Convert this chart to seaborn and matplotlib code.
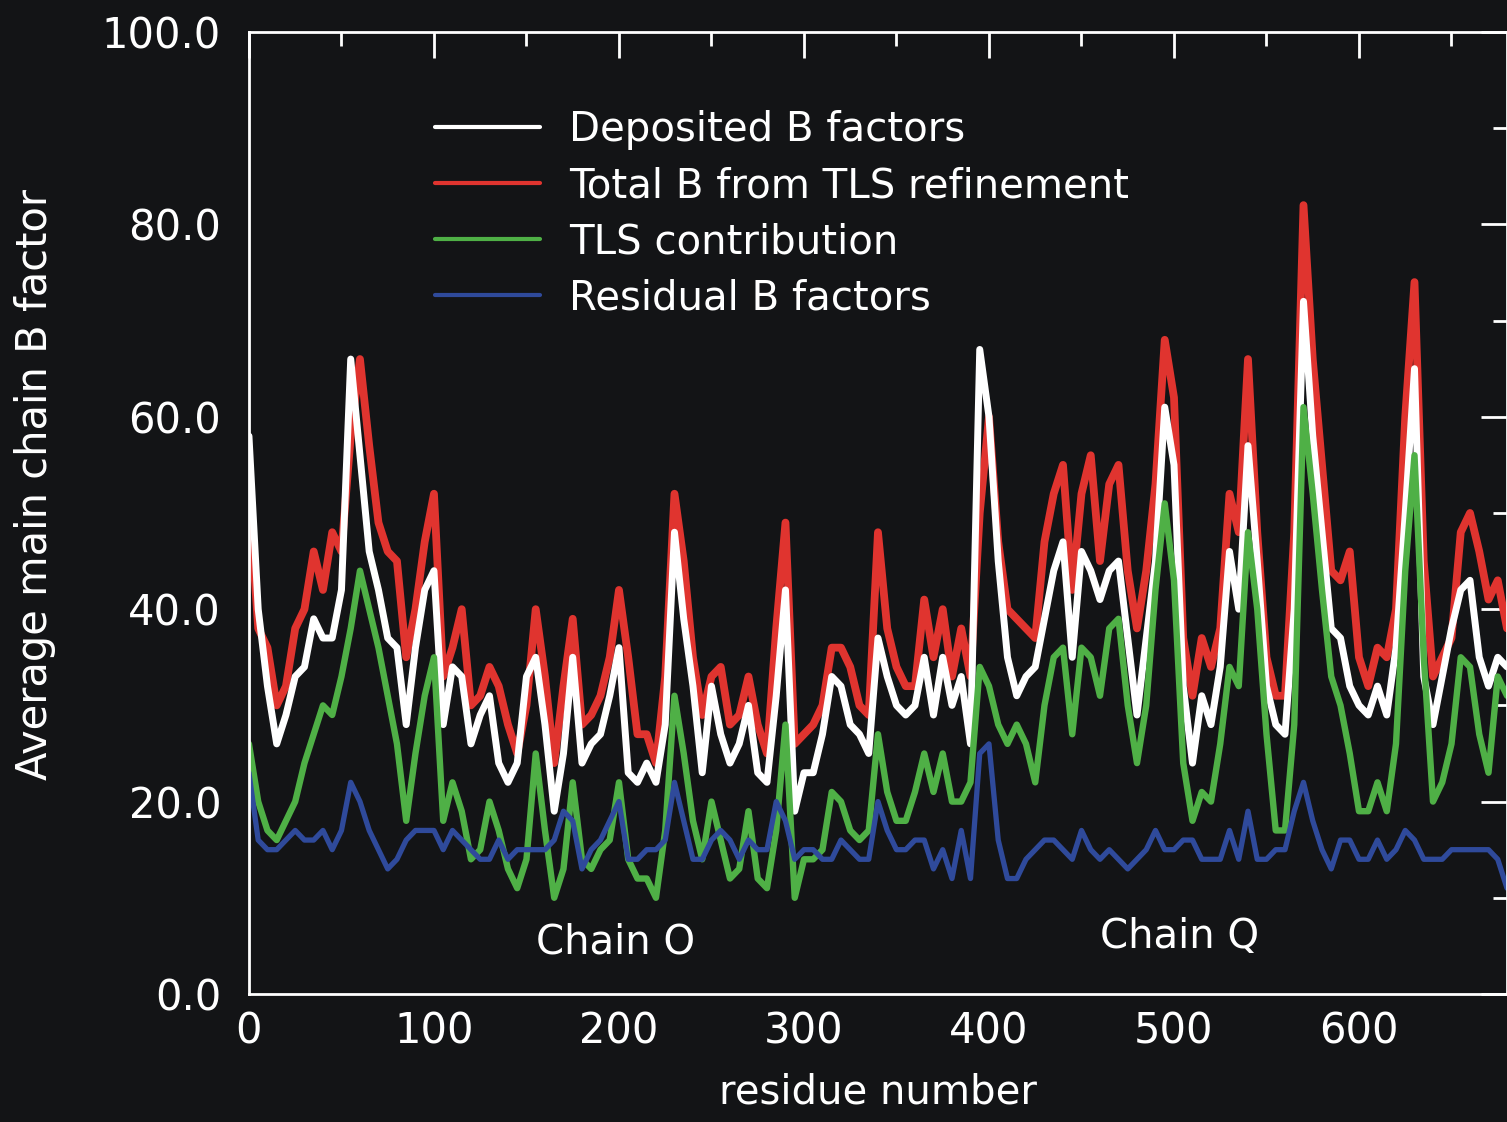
import numpy as np
import pandas as pd
import matplotlib
matplotlib.use("Agg")
import matplotlib.pyplot as plt
from matplotlib.lines import Line2D
from matplotlib.ticker import MultipleLocator, FormatStrFormatter
import seaborn as sns

# residue numbers (sampled every 5 residues)
residue = np.arange(0, 681, 5)

deposited = [58, 40, 32, 26, 29, 33, 34, 39, 37, 37,
             42, 66, 56, 46, 42, 37, 36, 28, 36, 42,
             44, 28, 34, 33, 26, 29, 31, 24, 22, 24,
             33, 35, 28, 19, 25, 35, 24, 26, 27, 31,
             36, 23, 22, 24, 22, 28, 48, 39, 32, 23,
             32, 27, 24, 26, 30, 23, 22, 31, 42, 19,
             23, 23, 27, 33, 32, 28, 27, 25, 37, 33,
             30, 29, 30, 35, 29, 35, 30, 33, 26, 67,
             60, 45, 35, 31, 33, 34, 39, 44, 47, 35,
             46, 44, 41, 44, 45, 37, 29, 37, 45, 61,
             55, 32, 24, 31, 28, 34, 46, 40, 57, 45,
             32, 28, 27, 40, 72, 58, 48, 38, 37, 32,
             30, 29, 32, 29, 36, 50, 65, 33, 28, 33,
             38, 42, 43, 35, 32, 35, 34]

total_tls = [52, 38, 36, 30, 32, 38, 40, 46, 42, 48,
             46, 58, 66, 57, 49, 46, 45, 35, 40, 47,
             52, 33, 36, 40, 30, 31, 34, 32, 28, 25,
             30, 40, 33, 24, 32, 39, 28, 29, 31, 35,
             42, 35, 27, 27, 24, 33, 52, 45, 35, 29,
             33, 34, 28, 29, 33, 28, 25, 38, 49, 26,
             27, 28, 30, 36, 36, 34, 30, 29, 48, 38,
             34, 32, 32, 41, 35, 40, 33, 38, 33, 50,
             60, 47, 40, 39, 38, 37, 47, 52, 55, 42,
             52, 56, 45, 53, 55, 44, 38, 44, 53, 68,
             62, 37, 31, 37, 34, 38, 52, 48, 66, 48,
             35, 31, 31, 48, 82, 66, 55, 44, 43, 46,
             35, 32, 36, 35, 40, 60, 74, 45, 33, 35,
             37, 48, 50, 46, 41, 43, 38]

tls_part = [26, 20, 17, 16, 18, 20, 24, 27, 30, 29,
            33, 38, 44, 40, 36, 31, 26, 18, 25, 31,
            35, 18, 22, 19, 14, 15, 20, 17, 13, 11,
            14, 25, 17, 10, 13, 22, 14, 13, 15, 16,
            22, 14, 12, 12, 10, 17, 31, 25, 18, 14,
            20, 16, 12, 13, 19, 12, 11, 17, 28, 10,
            14, 14, 15, 21, 20, 17, 16, 17, 27, 21,
            18, 18, 21, 25, 21, 25, 20, 20, 22, 34,
            32, 28, 26, 28, 26, 22, 30, 35, 36, 27,
            36, 35, 31, 38, 39, 30, 24, 30, 42, 51,
            43, 24, 18, 21, 20, 26, 34, 32, 48, 40,
            27, 17, 17, 28, 61, 52, 42, 33, 30, 25,
            19, 19, 22, 19, 26, 44, 56, 35, 20, 22,
            26, 35, 34, 27, 23, 33, 31]

residual = [23, 16, 15, 15, 16, 17, 16, 16, 17, 15,
            17, 22, 20, 17, 15, 13, 14, 16, 17, 17,
            17, 15, 17, 16, 15, 14, 14, 16, 14, 15,
            15, 15, 15, 16, 19, 18, 13, 15, 16, 18,
            20, 14, 14, 15, 15, 16, 22, 18, 14, 14,
            16, 17, 16, 14, 16, 15, 15, 20, 18, 14,
            15, 15, 14, 14, 16, 15, 14, 14, 20, 17,
            15, 15, 16, 16, 13, 15, 12, 17, 12, 25,
            26, 16, 12, 12, 14, 15, 16, 16, 15, 14,
            17, 15, 14, 15, 14, 13, 14, 15, 17, 15,
            15, 16, 16, 14, 14, 14, 17, 14, 19, 14,
            14, 15, 15, 19, 22, 18, 15, 13, 16, 16,
            14, 14, 16, 14, 15, 17, 16, 14, 14, 14,
            15, 15, 15, 15, 15, 14, 11]

names = ["Deposited B factors", "Total B from TLS refinement",
         "TLS contribution", "Residual B factors"]
colors = {"Deposited B factors": "#ffffff",
          "Total B from TLS refinement": "#e0342f",
          "TLS contribution": "#4fb046",
          "Residual B factors": "#2f4a9b"}
widths = {"Deposited B factors": 5.0,
          "Total B from TLS refinement": 5.6,
          "TLS contribution": 4.6,
          "Residual B factors": 3.8}

df = pd.DataFrame({"residue": residue,
                   names[0]: deposited, names[1]: total_tls,
                   names[2]: tls_part, names[3]: residual})

bg = "#131416"
sns.set_theme(style="dark")
plt.rcParams['font.family'] = ['DejaVu Sans']

fig = plt.figure(figsize=(15.07, 11.22), dpi=100, facecolor=bg)
ax = fig.add_axes([0.1652, 0.1141, 0.8348, 0.8574])
ax.set_facecolor(bg)

# red under white, then green, then blue
for name in [names[1], names[0], names[2], names[3]]:
    sns.lineplot(data=df, x="residue", y=name, ax=ax, color=colors[name],
                 lw=widths[name], legend=False)

ax.set_xlim(0, 680)
ax.set_ylim(0, 100)
ax.xaxis.set_major_locator(MultipleLocator(100))
ax.xaxis.set_minor_locator(MultipleLocator(50))
ax.yaxis.set_major_locator(MultipleLocator(20))
ax.yaxis.set_minor_locator(MultipleLocator(10))
ax.yaxis.set_major_formatter(FormatStrFormatter('%.1f'))
ax.tick_params(which='both', direction='in', top=True, right=True,
               colors='white', width=2, labelsize=30)
ax.tick_params(which='major', length=19)
ax.tick_params(which='minor', length=10)
ax.tick_params(axis='y', pad=20)
ax.tick_params(axis='x', pad=12)
for s in ax.spines.values():
    s.set_color('white')
    s.set_linewidth(2)
ax.grid(False)

ax.set_xlabel("residue number", color='white', fontsize=29)
ax.xaxis.set_label_coords(0.5, -0.082)
ax.set_ylabel("Average main chain B factor", color='white', fontsize=30)
ax.yaxis.set_label_coords(-0.153, 0.53)

ax.text(198, 5.4, "Chain O", color='white', fontsize=29, ha='center', va='center')
ax.text(503, 5.9, "Chain Q", color='white', fontsize=29, ha='center', va='center')

handles = [Line2D([], [], color=colors[n], lw=3) for n in names]
leg = ax.legend(handles, names, loc="upper left", bbox_to_anchor=(0.148, 0.919),
                frameon=False, fontsize=29, handlelength=2.6, handletextpad=0.72,
                labelspacing=0.40, borderpad=0, borderaxespad=0)
for t in leg.get_texts():
    t.set_color('white')

fig.savefig("out.png", dpi=100, facecolor=bg)
